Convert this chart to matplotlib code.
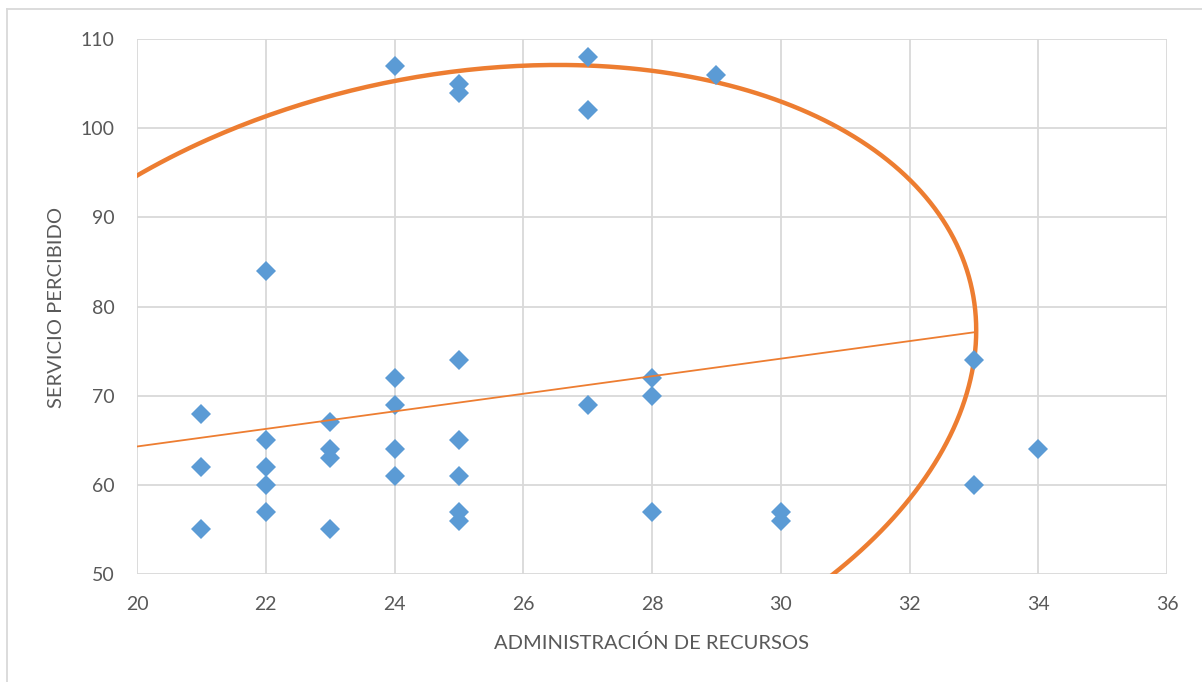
import numpy as np
import matplotlib.pyplot as plt
from matplotlib.lines import Line2D

plt.rcParams['font.family'] = ['Lato', 'DejaVu Sans']

# ADMINISTRACIÓN DE RECURSOS vs SERVICIO PERCIBIDO
admin = [21, 21, 21,
         22, 22, 22, 22, 22,
         23, 23, 23, 23,
         24, 24, 24, 24, 24,
         25, 25, 25, 25, 25, 25, 25,
         27, 27, 27,
         28, 28, 28,
         29,
         30, 30,
         33, 33,
         34]
servicio = [68, 62, 55,
            84, 65, 62, 60, 57,
            67, 64, 63, 55,
            107, 72, 69, 64, 61,
            105, 104, 74, 65, 61, 57, 56,
            108, 102, 69,
            72, 70, 57,
            106,
            57, 56,
            74, 60,
            64]

# straight orange line
trend_x = [20, 33]
trend_slope = 0.985
trend_intercept = 44.6

# hand drawn ellipse: centre and two semi-axis vectors, in data units
ellipse_center = (24.80, 69.36)
ellipse_u = (-1.823, -37.727)
ellipse_v = (-8.032, 0.388)

blue = '#5B9BD5'
orange = '#ED7D31'
grey_txt = '#595959'
grid_c = '#D9D9D9'

fig = plt.figure(figsize=(12.02, 6.82), dpi=100)
ax = fig.add_axes([137/1202, 1-574/682, 1030/1202, 535/682])

t = np.linspace(0, 2*np.pi, 600)
ex = ellipse_center[0] + ellipse_u[0]*np.cos(t) + ellipse_v[0]*np.sin(t)
ey = ellipse_center[1] + ellipse_u[1]*np.cos(t) + ellipse_v[1]*np.sin(t)
ax.plot(ex, ey, color=orange, lw=3.2, zorder=2)

ax.plot(admin, servicio, linestyle='none', marker='D', markersize=10,
        color=blue, markeredgewidth=0, zorder=3)

tx = np.array(trend_x, float)
ax.plot(tx, trend_intercept + trend_slope*tx, color=orange, lw=1.3, zorder=4)

ax.set_xlim(20, 36)
ax.set_ylim(50, 110)
ax.set_xticks(range(20, 37, 2))
ax.set_yticks(range(50, 111, 10))
ax.grid(True, color=grid_c, lw=1.3)
ax.set_axisbelow(True)
for s in ax.spines.values():
    s.set_visible(False)
ax.tick_params(length=0, labelsize=14, labelcolor=grey_txt)
ax.tick_params(axis='x', pad=16)
ax.tick_params(axis='y', pad=16)

fig.text(652/1202, 1-643/682, 'ADMINISTRACIÓN DE RECURSOS', ha='center', va='center',
         fontsize=14.5, color=grey_txt)
fig.text(57/1202, 1-307/682, 'SERVICIO PERCIBIDO', ha='center', va='center',
         rotation=90, fontsize=14.5, color=grey_txt)

# chart border (only left and top show)
fig.add_artist(Line2D([7/1202, 7/1202], [0, 1-9/682], color=grid_c, lw=1.3))
fig.add_artist(Line2D([7/1202, 1], [1-9/682, 1-9/682], color=grid_c, lw=1.3))

fig.savefig('out.png', dpi=100)
